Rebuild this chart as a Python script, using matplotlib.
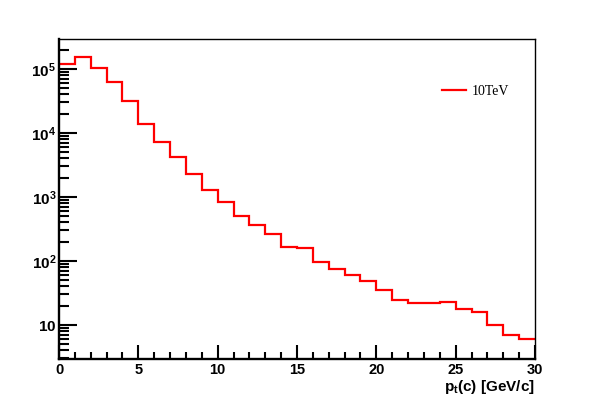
import matplotlib
matplotlib.use("Agg")
import matplotlib.pyplot as plt
import numpy as np
from matplotlib.ticker import FuncFormatter, MultipleLocator, LogLocator

bin_edges = list(range(0, 31))
counts = [1.21e5, 1.56e5, 1.05e5, 6.3e4, 3.1e4, 1.4e4, 7.3e3, 4.2e3, 2.3e3, 1.3e3,
          830, 510, 370, 261, 167, 158, 98, 75, 61, 49,
          35, 24.3, 22.4, 22.4, 23.1, 18, 15.9, 10, 7.0, 6.1]
legend_label = "10TeV"
x_label = r"p$_{\mathbf{t}}$(c) [GeV/c]"

plt.rcParams['mathtext.fontset'] = 'custom'
plt.rcParams['mathtext.rm'] = 'Liberation Sans:bold'
plt.rcParams['mathtext.bf'] = 'Liberation Sans:bold'
plt.rcParams['mathtext.it'] = 'Liberation Sans:bold'

fig = plt.figure(figsize=(5.95, 3.99), dpi=100)
ax = fig.add_axes([59/595, 40/399, (535-59)/595, (359-39.3)/399])

ax.stairs(counts, bin_edges, color='red', linewidth=1.6, baseline=None)
ax.set_yscale('log')
ax.set_xlim(0, 30)
ax.set_ylim(2.94, 2.9e5)

ax.xaxis.set_major_locator(MultipleLocator(5))
ax.xaxis.set_minor_locator(MultipleLocator(1))
ax.yaxis.set_major_locator(LogLocator(base=10, numticks=10))
ax.yaxis.set_minor_locator(LogLocator(base=10, subs=np.arange(2, 10), numticks=20))

def yfmt(v, pos):
    e = int(round(np.log10(v)))
    if e == 1:
        return r'$\mathbf{10}$'
    return r'$\mathbf{10^{%d}}$' % e
ax.yaxis.set_major_formatter(FuncFormatter(yfmt))
ax.yaxis.set_minor_formatter(FuncFormatter(lambda v, p: ''))

ax.tick_params(axis='both', which='both', direction='in', top=False, right=False, width=1.5)
ax.tick_params(axis='y', which='major', length=13, labelsize=11, pad=2)
ax.tick_params(axis='y', which='minor', length=7)
ax.tick_params(axis='x', which='major', length=10, labelsize=10.5, pad=3)
ax.tick_params(axis='x', which='minor', length=5)
for lab in ax.get_xticklabels():
    lab.set_fontfamily('Liberation Sans')
    lab.set_fontweight('bold')

ax.spines['left'].set_linewidth(1.7)
ax.spines['bottom'].set_linewidth(1.7)
ax.spines['top'].set_linewidth(1)
ax.spines['right'].set_linewidth(1)

ax.text(1.0, -0.06, x_label, transform=ax.transAxes, ha='right', va='top',
        fontsize=11, fontfamily='Liberation Sans', fontweight='bold')

leg = ax.legend([plt.Line2D([], [], color='red', linewidth=1.6)], [legend_label],
                loc='center left', bbox_to_anchor=(0.805, 0.837), frameon=False,
                prop={'family': 'Liberation Serif', 'size': 10},
                handlelength=1.7, handletextpad=0.4, borderaxespad=0, borderpad=0)

fig.savefig('out.png', dpi=100)
